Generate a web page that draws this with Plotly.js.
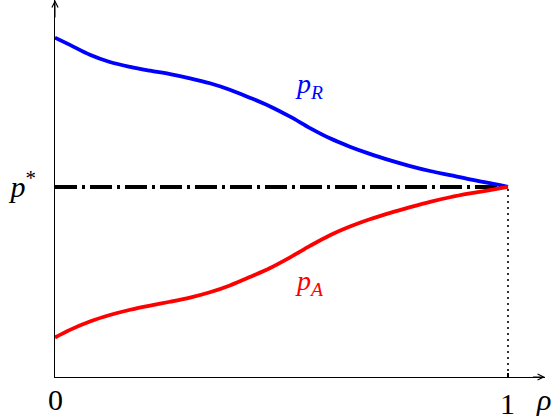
<!DOCTYPE html>
<html>
<head>
<meta charset="utf-8">
<script src="https://cdn.plot.ly/plotly-3.0.1.min.js"></script>
<style>html,body{margin:0;padding:0;background:#fff;}#chart{width:554px;height:419px;}</style>
</head>
<body>
<div id="chart"></div>
<script>
// data
const rho = [0, 0.033, 0.077, 0.121, 0.166, 0.210, 0.254, 0.298, 0.342, 0.386, 0.430, 0.475,
             0.519, 0.563, 0.607, 0.651, 0.695, 0.740, 0.784, 0.828, 0.872, 0.916, 0.960, 1];
const pR  = [0.893, 0.874, 0.848, 0.829, 0.816, 0.806, 0.797, 0.786, 0.773, 0.756, 0.735, 0.712,
             0.685, 0.655, 0.628, 0.606, 0.587, 0.570, 0.555, 0.542, 0.531, 0.520, 0.510, 0.5];
const pA  = [0.104, 0.124, 0.146, 0.163, 0.177, 0.188, 0.198, 0.209, 0.223, 0.241, 0.263, 0.287,
             0.315, 0.345, 0.373, 0.396, 0.415, 0.432, 0.447, 0.461, 0.473, 0.483, 0.492, 0.5];
const pStar = 0.5;
const rhoMax = 1;
const xTickVals = [0, 1];
const xTickText = ['0', '1'];
const yTickText = ['<i>p</i><sup>*</sup>'];

const XMAX = 1.0817, YMAX = 0.992;
const serif = 'Liberation Serif, Times New Roman, serif';

const traces = [
  {x: [0, rhoMax], y: [pStar, pStar], mode: 'lines',
   line: {color: '#000', width: 4, dash: '22px,5px,3px,5px'}, hoverinfo: 'skip'},
  {x: [rhoMax, rhoMax], y: [0, pStar], mode: 'lines',
   line: {color: '#000', width: 1.6, dash: '2px,4px'}, hoverinfo: 'skip'},
  {x: rho, y: pR, mode: 'lines', line: {color: '#0000ff', width: 3.8, shape: 'spline', smoothing: 1}},
  {x: rho, y: pA, mode: 'lines', line: {color: '#ff0000', width: 3.8, shape: 'spline', smoothing: 1}}
];

const tickAnn = xTickVals.map((v, i) => ({
  x: v, y: 0, xref: 'x', yref: 'y', xanchor: 'center', yanchor: 'middle',
  yshift: v === 0 ? -22 : -26, text: xTickText[i], showarrow: false,
  font: {family: serif, size: 30, color: '#000'}
}));

const layout = {
  width: 554, height: 419,
  margin: {l: 55, r: 9, t: 0, b: 42, pad: 0},
  paper_bgcolor: '#fff', plot_bgcolor: '#fff',
  showlegend: false,
  xaxis: {range: [0, XMAX], showgrid: false, zeroline: false, showline: true,
          linecolor: '#000', linewidth: 1, ticks: '', showticklabels: false, fixedrange: true},
  yaxis: {range: [0, YMAX], showgrid: false, zeroline: false, showline: true,
          linecolor: '#000', linewidth: 1, ticks: '', tickvals: [pStar], ticktext: yTickText,
          tickfont: {family: serif, size: 30, color: '#000'}, ticklabelstandoff: 12, fixedrange: true},
  shapes: [
    {type: 'line', xref: 'x', yref: 'y', x0: rhoMax, x1: rhoMax, ysizemode: 'pixel', yanchor: 0, y0: -4, y1: 4,
     line: {color: '#000', width: 2}},
    {type: 'line', xref: 'x', yref: 'y', y0: pStar, y1: pStar, xsizemode: 'pixel', xanchor: 0, x0: -4, x1: 4,
     line: {color: '#000', width: 2.5}}
  ],
  annotations: tickAnn.concat([
    {x: XMAX, y: 0, ax: XMAX - 0.03, ay: 0, xref: 'x', yref: 'y', axref: 'x', ayref: 'y',
     showarrow: true, arrowhead: 5, arrowsize: 1.2, arrowwidth: 1, arrowcolor: '#000', text: ''},
    {x: 0, y: YMAX, ax: 0, ay: YMAX - 0.05, xref: 'x', yref: 'y', axref: 'x', ayref: 'y',
     showarrow: true, arrowhead: 5, arrowsize: 1.2, arrowwidth: 1, arrowcolor: '#000', text: ''},
    {x: XMAX, y: 0, xref: 'x', yref: 'y', xanchor: 'center', yanchor: 'top', yshift: -4, xshift: -2,
     text: '<i>ρ</i>', showarrow: false, font: {family: serif, size: 30, color: '#000'}},
    {x: 0.561, y: 0.766, xref: 'x', yref: 'y', text: '<i>p</i><sub><i>R</i></sub>', showarrow: false,
     font: {family: serif, size: 28, color: '#0000ff'}},
    {x: 0.561, y: 0.248, xref: 'x', yref: 'y', text: '<i>p</i><sub><i>A</i></sub>', showarrow: false,
     font: {family: serif, size: 28, color: '#ff0000'}}
  ])
};

Plotly.newPlot('chart', traces, layout, {staticPlot: true, displayModeBar: false});
</script>
</body>
</html>
